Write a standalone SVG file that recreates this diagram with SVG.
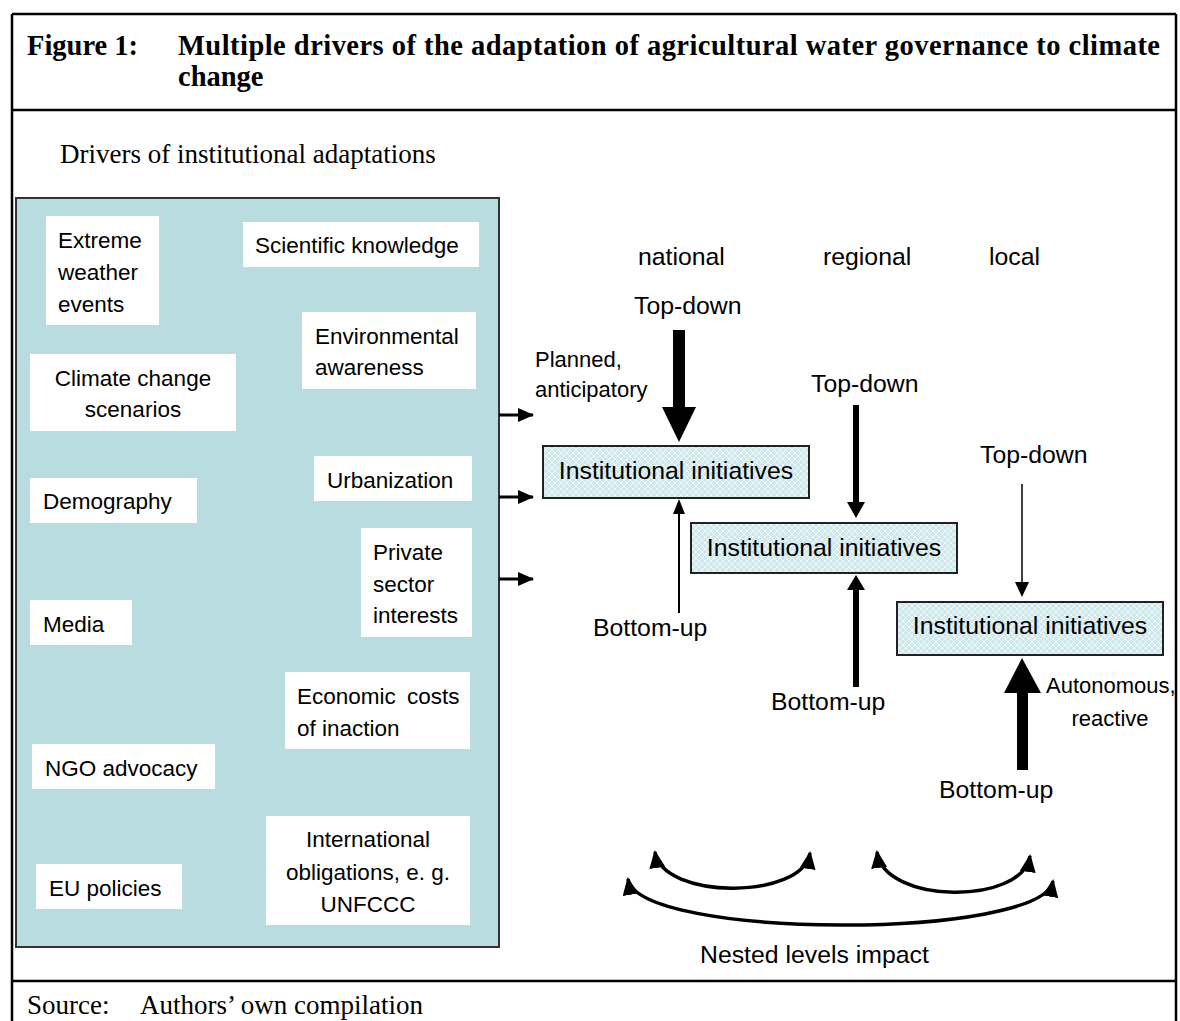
<svg xmlns="http://www.w3.org/2000/svg" width="1180" height="1021" viewBox="0 0 1180 1021">
<style>
.frame{stroke:#000;stroke-width:2.5;fill:none}
.serif{font-family:"Liberation Serif","Times New Roman",serif;fill:#000}
.sans{font-family:"Liberation Sans",Arial,sans-serif;fill:#000}
.drv{font-size:22.5px}
.lab{font-size:24.8px}
.small{font-size:22px}
.wbox{fill:#fff;stroke:none}
.inst{fill:url(#hatch);stroke:#222;stroke-width:2}
.conn{stroke:#000;fill:none}
</style>
<defs>
<pattern id="hatch" width="6" height="6" patternUnits="userSpaceOnUse">
<rect width="6" height="6" fill="#cfe8ec"/>
<path d="M0,0 L6,6 M6,0 L0,6" stroke="#eef8f9" stroke-width="1"/>
</pattern>
<marker id="ah" markerUnits="userSpaceOnUse" markerWidth="16" markerHeight="14" refX="15" refY="7" orient="auto-start-reverse" viewBox="0 0 16 14">
<path d="M0,0 L16,7 L0,14 z" fill="#000"/>
</marker>
<marker id="ahc" markerUnits="userSpaceOnUse" markerWidth="18" markerHeight="16" refX="16" refY="8" orient="auto-start-reverse" viewBox="0 0 18 16">
<path d="M0,0 L18,8 L0,16 z" fill="#000"/>
</marker>
</defs>

<!-- frame -->
<g id="frame">
<line class="frame" x1="12" y1="14" x2="1176" y2="14"/>
<line class="frame" x1="12" y1="14" x2="12" y2="1021"/>
<line class="frame" x1="1176" y1="14" x2="1176" y2="1021"/>
<line class="frame" x1="12" y1="110" x2="1176" y2="110"/>
<line class="frame" x1="12" y1="981" x2="1176" y2="981"/>
</g>

<g id="title" class="serif" font-weight="bold" font-size="28.5px">
<text x="27" y="55">Figure 1:</text>
<text x="178" y="55" textLength="982" lengthAdjust="spacing">Multiple drivers of the adaptation of agricultural water governance to climate</text>
<text x="178" y="86">change</text>
</g>

<text id="subtitle" class="serif" x="60" y="163" font-size="27px">Drivers of institutional adaptations</text>

<g id="source" class="serif" font-size="27px">
<text x="27" y="1014">Source:</text>
<text x="140" y="1014">Authors’ own compilation</text>
</g>

<!-- drivers panel -->
<g id="drivers-panel">
<rect x="16" y="198" width="483" height="749" fill="#b8dce0" stroke="#333" stroke-width="2"/>
</g>

<g id="extreme-weather" class="sans drv">
<rect class="wbox" x="46" y="216" width="113" height="109"/>
<text x="58" y="248">Extreme</text>
<text x="58" y="280">weather</text>
<text x="58" y="312">events</text>
</g>
<g id="scientific-knowledge" class="sans drv">
<rect class="wbox" x="243" y="222" width="236" height="45"/>
<text x="255" y="253">Scientific knowledge</text>
</g>
<g id="environmental-awareness" class="sans drv">
<rect class="wbox" x="302" y="312" width="174" height="77"/>
<text x="315" y="344">Environmental</text>
<text x="315" y="375">awareness</text>
</g>
<g id="climate-scenarios" class="sans drv" text-anchor="middle">
<rect class="wbox" x="30" y="354" width="206" height="77"/>
<text x="133" y="386">Climate change</text>
<text x="133" y="417">scenarios</text>
</g>
<g id="urbanization" class="sans drv">
<rect class="wbox" x="314" y="456" width="158" height="45"/>
<text x="327" y="488">Urbanization</text>
</g>
<g id="demography" class="sans drv">
<rect class="wbox" x="30" y="478" width="167" height="45"/>
<text x="43" y="509">Demography</text>
</g>
<g id="private-sector" class="sans drv">
<rect class="wbox" x="361" y="528" width="111" height="109"/>
<text x="373" y="560">Private</text>
<text x="373" y="592">sector</text>
<text x="373" y="623">interests</text>
</g>
<g id="media" class="sans drv">
<rect class="wbox" x="30" y="600" width="102" height="45"/>
<text x="43" y="632">Media</text>
</g>
<g id="economic-costs" class="sans drv">
<rect class="wbox" x="285" y="672" width="185" height="77"/>
<text x="297" y="704" word-spacing="5">Economic costs</text>
<text x="297" y="736">of inaction</text>
</g>
<g id="ngo-advocacy" class="sans drv">
<rect class="wbox" x="32" y="744" width="183" height="45"/>
<text x="45" y="776">NGO advocacy</text>
</g>
<g id="international-obligations" class="sans drv" text-anchor="middle">
<rect class="wbox" x="266" y="816" width="204" height="109"/>
<text x="368" y="847">International</text>
<text x="368" y="880">obligations, e. g.</text>
<text x="368" y="912">UNFCCC</text>
</g>
<g id="eu-policies" class="sans drv">
<rect class="wbox" x="36" y="864" width="146" height="45"/>
<text x="49" y="896">EU policies</text>
</g>

<!-- level labels -->
<g id="levels" class="sans lab">
<text x="638" y="265">national</text>
<text x="823" y="265">regional</text>
<text x="989" y="265">local</text>
</g>

<g id="labels" class="sans">
<text class="lab" x="634" y="314">Top-down</text>
<text class="small" x="535" y="367">Planned,</text>
<text class="small" x="535" y="397">anticipatory</text>
<text class="lab" x="811" y="392">Top-down</text>
<text class="lab" x="980" y="463">Top-down</text>
<text class="lab" x="593" y="636">Bottom-up</text>
<text class="lab" x="771" y="710">Bottom-up</text>
<text class="lab" x="939" y="798">Bottom-up</text>
<text class="small" x="1046" y="693">Autonomous,</text>
<text class="small" x="1110" y="726" text-anchor="middle">reactive</text>
<text class="lab" x="700" y="963">Nested levels impact</text>
</g>

<!-- institutional initiatives -->
<g id="inst-national" class="sans lab">
<rect class="inst" x="543" y="446" width="266" height="52"/>
<text x="676" y="479" text-anchor="middle">Institutional initiatives</text>
</g>
<g id="inst-regional" class="sans lab">
<rect class="inst" x="691" y="523" width="266" height="50"/>
<text x="824" y="556" text-anchor="middle">Institutional initiatives</text>
</g>
<g id="inst-local" class="sans lab">
<rect class="inst" x="897" y="602" width="266" height="53"/>
<text x="1030" y="634" text-anchor="middle">Institutional initiatives</text>
</g>

<!-- connectors -->
<g id="connectors">
<line class="conn" stroke-width="3" x1="499" y1="415" x2="533" y2="415" marker-end="url(#ah)"/>
<line class="conn" stroke-width="3" x1="499" y1="497" x2="533" y2="497" marker-end="url(#ah)"/>
<line class="conn" stroke-width="3" x1="499" y1="579" x2="533" y2="579" marker-end="url(#ah)"/>

<!-- national top-down (thick) -->
<rect x="673" y="330" width="12" height="78" fill="#000"/>
<polygon points="662,407 696,407 679,442" fill="#000"/>
<!-- national bottom-up (thin) -->
<line class="conn" stroke-width="2" x1="679" y1="613" x2="679" y2="513"/>
<polygon points="673,514 685,514 679,499" fill="#000"/>

<!-- regional top-down -->
<rect x="853" y="405" width="6" height="98" fill="#000"/>
<polygon points="847,502 865,502 856,518" fill="#000"/>
<!-- regional bottom-up -->
<rect x="853" y="589" width="6" height="98" fill="#000"/>
<polygon points="847,590 865,590 856,575" fill="#000"/>

<!-- local top-down (thin) -->
<line class="conn" stroke-width="1.5" x1="1022" y1="484" x2="1022" y2="583"/>
<polygon points="1015,582 1029,582 1022,597" fill="#000"/>
<!-- local bottom-up (thick) -->
<rect x="1017" y="692" width="11" height="78" fill="#000"/>
<polygon points="1004,693 1041,693 1022,658" fill="#000"/>

<!-- nested curves -->
<path class="conn" stroke-width="3.5" d="M655,852 C662,900 803,900 810,853" marker-start="url(#ahc)" marker-end="url(#ahc)"/>
<path class="conn" stroke-width="3.5" d="M877,852 C884,905 1023,905 1030,856" marker-start="url(#ahc)" marker-end="url(#ahc)"/>
<path class="conn" stroke-width="3.5" d="M628,879 C638,940 1043,940 1053,881" marker-start="url(#ahc)" marker-end="url(#ahc)"/>
</g>
</svg>
